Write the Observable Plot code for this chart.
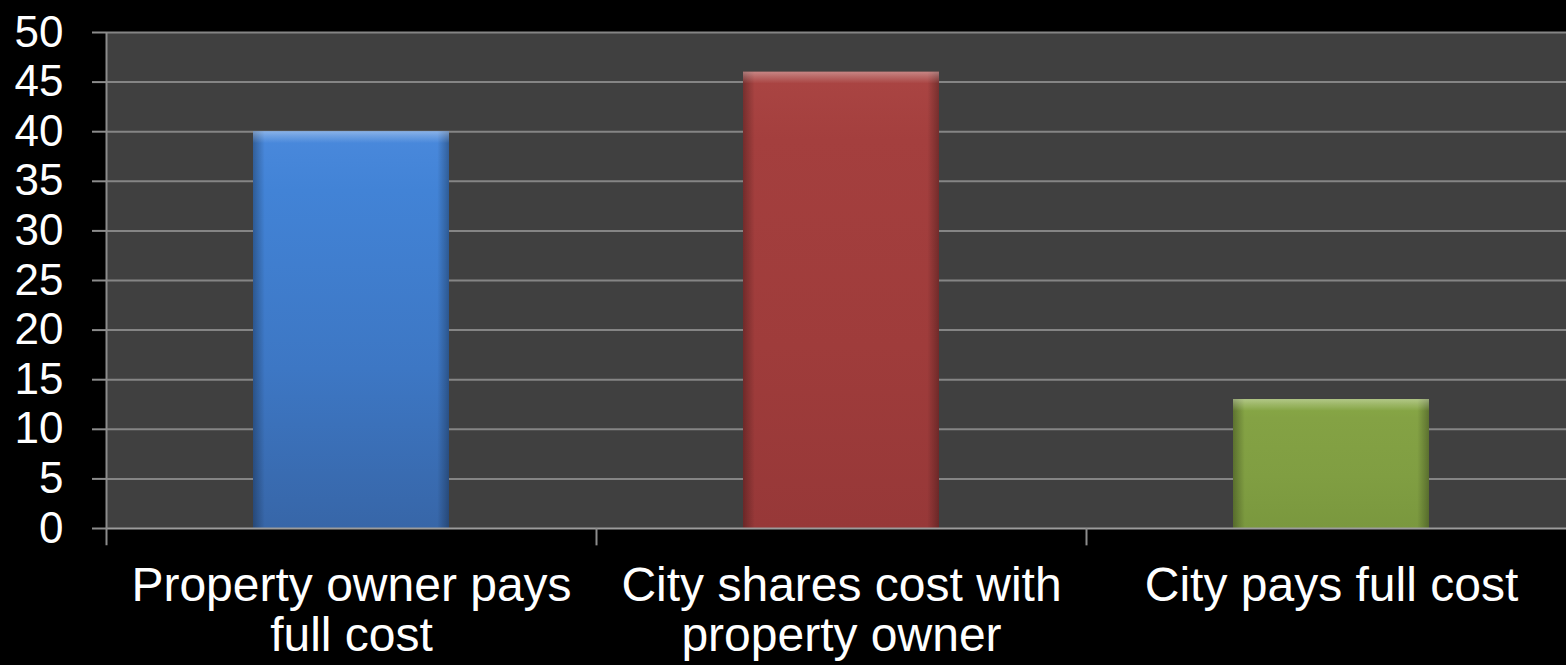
<!DOCTYPE html>
<html>
<head>
<meta charset="utf-8">
<script src="https://cdn.jsdelivr.net/npm/d3@7"></script>
<script src="https://cdn.jsdelivr.net/npm/@observablehq/plot@0.6"></script>
<style>
  html, body { margin: 0; padding: 0; background: #000; overflow: hidden; }
  #chart svg { display: block; background: #000; overflow: visible; }
</style>
</head>
<body>
<div id="chart"></div>
<script>
const categories = ["Property owner pays\nfull cost", "City shares cost with\nproperty owner", "City pays full cost"];
const values = [40, 46, 13];
const gradIds = ["gBlue", "gRed", "gGreen"];
const yTicks = [0, 5, 10, 15, 20, 25, 30, 35, 40, 45, 50];

const data = categories.map((c, i) => ({category: c, value: values[i], grad: gradIds[i]}));

const palettes = {
  gBlue:  ["#4a89dc", "#4283d6", "#3d77c4", "#3766a8"],
  gRed:   ["#aa4543", "#a43f3e", "#9f3c3b", "#973838"],
  gGreen: ["#88a946", "#84a244", "#809e42", "#7a983e"]
};

function defs() {
  const d = d3.create("svg:defs");
  for (const id of gradIds) {
    const p = palettes[id];
    const g = d.append("linearGradient").attr("id", id).attr("x1", 0).attr("y1", 0).attr("x2", 0).attr("y2", 1);
    g.append("stop").attr("offset", "0%").attr("stop-color", p[0]);
    g.append("stop").attr("offset", "15%").attr("stop-color", p[1]);
    g.append("stop").attr("offset", "60%").attr("stop-color", p[2]);
    g.append("stop").attr("offset", "100%").attr("stop-color", p[3]);
  }
  const s = d.append("linearGradient").attr("id", "sides").attr("x1", 0).attr("y1", 0).attr("x2", 1).attr("y2", 0);
  s.append("stop").attr("offset", "0%").attr("stop-color", "#000").attr("stop-opacity", 0.3);
  s.append("stop").attr("offset", "6%").attr("stop-color", "#000").attr("stop-opacity", 0);
  s.append("stop").attr("offset", "94%").attr("stop-color", "#000").attr("stop-opacity", 0);
  s.append("stop").attr("offset", "100%").attr("stop-color", "#000").attr("stop-opacity", 0.3);
  const t = d.append("linearGradient").attr("id", "topHi").attr("x1", 0).attr("y1", 0).attr("x2", 0).attr("y2", 1);
  t.append("stop").attr("offset", "0%").attr("stop-color", "#fff").attr("stop-opacity", 0.35);
  t.append("stop").attr("offset", "40%").attr("stop-color", "#fff").attr("stop-opacity", 0.2);
  t.append("stop").attr("offset", "100%").attr("stop-color", "#fff").attr("stop-opacity", 0);
  return d.node();
}

const chart = Plot.plot({
  width: 1566,
  height: 665,
  marginTop: 32,
  marginBottom: 137,
  marginLeft: 106,
  marginRight: -10,
  style: {fontFamily: "'Liberation Sans', Arial, sans-serif", background: "#000", color: "white"},
  x: {domain: categories, paddingInner: 0.6, paddingOuter: 0.3, label: null},
  y: {domain: [0, 50], label: null},
  marks: [
    defs,
    Plot.frame({fill: "#404040", stroke: null}),
    Plot.ruleY(yTicks.filter(t => t > 0), {stroke: "#858585", strokeWidth: 2}),
    Plot.barY(data, {x: "category", y: "value", fill: d => `url(#${d.grad})`}),
    Plot.barY(data, {x: "category", y: "value", fill: "url(#sides)"}),
    Plot.barY(data, {x: "category", y1: d => d.value - 1.2, y2: "value", fill: "url(#topHi)"}),
    Plot.ruleY([0], {stroke: "#9c9c9c", strokeWidth: 2}),
    Plot.ruleX([categories[0]], {x: d => d, dx: -245, y1: -1.75, y2: 50, stroke: "#8c8c8c", strokeWidth: 2}),
    Plot.ruleX(categories.slice(1), {x: d => d, dx: -245, y1: -1.75, y2: 0, stroke: "#8c8c8c", strokeWidth: 2}),
    Plot.axisY({ticks: yTicks, tickSize: 14, tickPadding: 29, fontSize: 44, stroke: "#8c8c8c", strokeWidth: 2, fill: "white", tickFormat: d => String(d)}),
    Plot.axisX({tickSize: 0, tickPadding: 37, fontSize: 48, lineHeight: 1.04, fill: "white"})
  ]
});
document.getElementById("chart").appendChild(chart);
</script>
</body>
</html>
